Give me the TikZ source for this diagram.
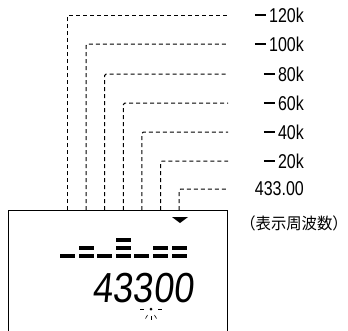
\documentclass[tikz,border=0pt]{standalone}
\usepackage{fontspec}
\setmainfont{Liberation Sans}
\newfontfamily\jpfont{Noto Sans CJK JP}
\newcommand\lminus{\rule[0.33em]{0.72em}{1.1pt}\,}

\tikzset{
lead/.style={dash pattern=on 4pt off 3pt,line width=1pt,rounded corners=1.5pt},
lbl/.style={anchor=east,inner sep=0pt,font=\fontsize{20}{20}\selectfont,xscale=0.8},
}

\begin{document}
\begin{tikzpicture}[x=1pt,y=-1pt]
\useasboundingbox (0,0) rectangle (348,330);
{
% display window
\draw[line width=1pt] (8,331) -- (8,210) -- (227,210) -- (227,331);
\fill (172,217) -- (188,217) -- (180,223) -- cycle;
% leads and labels
\foreach \i/\y/\t in {0/15/{\lminus120k},1/44/{\lminus100k},2/74/{\lminus80k},3/103/{\lminus60k},4/132/{\lminus40k},5/161/{\lminus20k},6/189/{433.00}}{
\coordinate (c\i) at ({67.5+18.6*\i},210);
\coordinate (e\i) at (228,\y);
\node[lbl] (l\i) at (304,\y) {\t};
\draw[lead] (c\i) |- (e\i);
}
\node[anchor=east,inner sep=0pt,xscale=0.96,font=\jpfont\fontsize{16}{16}\selectfont] (unit) at (348,223) {（表示周波数）};
% bar graph
\foreach \i/\n in {0/1,1/2,2/1,3/3,4/1,5/2,6/2}{
\foreach \k in {1,...,\n}{
\fill ({60+18.6*\i},{258-8*(\k-1)}) rectangle +(15,-4.5);
}
}
% frequency readout
\node[anchor=base,inner sep=0pt,font=\fontsize{42}{42}\selectfont,xscale=0.86,xslant=0.12] (freq) at (143,302) {43300};
\coordinate (dp) at (151,309);
\fill (dp) circle (1.5);
\foreach \a in {0,60,90,120,180}{
\draw[line width=0.6pt] (dp) ++(\a:7) -- ++(\a:4);
}
}
\end{tikzpicture}
\end{document}
